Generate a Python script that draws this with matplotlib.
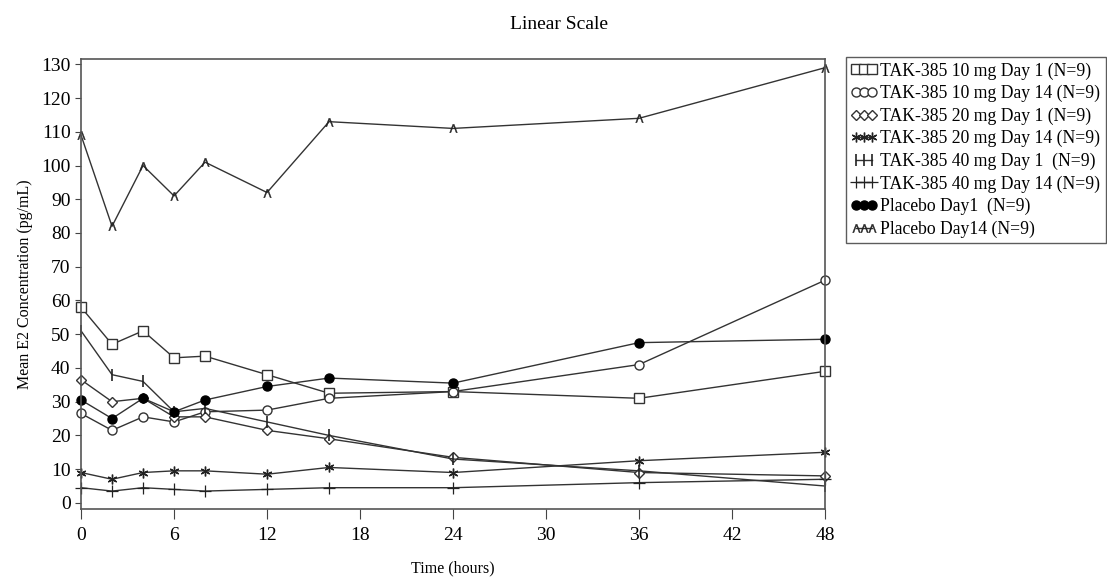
import matplotlib
matplotlib.use("Agg")
import matplotlib.pyplot as plt

plt.rcParams['font.family'] = ['Liberation Serif', 'DejaVu Serif']

time = [0, 2, 4, 6, 8, 12, 16, 24, 36, 48]
labels = ["TAK-385 10 mg Day 1 (N=9)", "TAK-385 10 mg Day 14 (N=9)",
          "TAK-385 20 mg Day 1 (N=9)", "TAK-385 20 mg Day 14 (N=9)",
          "TAK-385 40 mg Day 1  (N=9)", "TAK-385 40 mg Day 14 (N=9)",
          "Placebo Day1  (N=9)", "Placebo Day14 (N=9)"]
tak10_d1 = [58, 47, 51, 43, 43.5, 38, 32.5, 33, 31, 39]
tak10_d14 = [26.5, 21.5, 25.5, 24, 27, 27.5, 31, 33, 41, 66]
tak20_d1 = [36.5, 30, 31, 25.5, 25.5, 21.5, 19, 13.5, 9, 8]
tak20_d14 = [9, 7, 9, 9.5, 9.5, 8.5, 10.5, 9, 12.5, 15]
tak40_d1 = [51, 38, 36, 27, 28, 24, 20, 13, 9.5, 5]
tak40_d14 = [4.5, 3.5, 4.5, 4, 3.5, 4, 4.5, 4.5, 6, 7]
placebo_d1 = [30.5, 25, 31, 27, 30.5, 34.5, 37, 35.5, 47.5, 48.5]
placebo_d14 = [109, 82, 100, 91, 101, 92, 113, 111, 114, 129]

series = [tak10_d1, tak10_d14, tak20_d1, tak20_d14, tak40_d1, tak40_d14, placebo_d1, placebo_d14]
styles = [
    dict(marker='s', ms=6.5, mfc='white', mec='#333333'),
    dict(marker='o', ms=6.5, mfc='white', mec='#333333'),
    dict(marker='D', ms=5.2, mfc='white', mec='#333333'),
    dict(marker=(6, 2, 0), ms=7, mec='#222222', mew=1.0),
    dict(marker='|', ms=9, mec='#222222', mew=1.2),
    dict(marker='+', ms=8, mec='#222222', mew=0.9),
    dict(marker='o', ms=6.5, mfc='black', mec='black'),
    dict(marker='$\\Lambda$', ms=6, mec='#222222', mfc='#222222', mew=0.3),
]

fig = plt.figure(figsize=(11.07, 5.81), dpi=100)
ax = fig.add_axes([0.0732, 0.124, 0.6721, 0.774])

for vals, lab, st in zip(series, labels, styles):
    ax.plot(time, vals, color='#333333', lw=1.0, label=lab, clip_on=False, **st)

ax.set_xlim(0, 48)
ax.set_ylim(-1.8, 131.5)
ax.set_xticks(range(0, 49, 6))
ax.set_yticks(range(0, 131, 10))
ax.tick_params(axis='both', labelsize=14, direction='out', length=4, width=0.8, color='#444444')
ax.tick_params(axis='x', length=7, pad=6)
for s in ax.spines.values():
    s.set_color('#555555')
    s.set_linewidth(1.2)

ax.set_xlabel("Time (hours)", fontsize=11.5, labelpad=12)
ax.set_ylabel("Mean E2 Concentration (pg/mL)", fontsize=11.5, labelpad=6)
fig.text(0.505, 0.958, "Linear Scale", ha='center', va='center', fontsize=14)

leg = ax.legend(loc='upper left', bbox_to_anchor=(1.028, 1.005), numpoints=3,
                handlelength=1.5, handletextpad=0.15, borderpad=0.3, labelspacing=0.3,
                fontsize=12.7, frameon=True, fancybox=False, borderaxespad=0,
                markerscale=1.0)
leg.get_frame().set_edgecolor('#333333')
leg.get_frame().set_linewidth(1.0)

fig.savefig("out.png", dpi=100)
